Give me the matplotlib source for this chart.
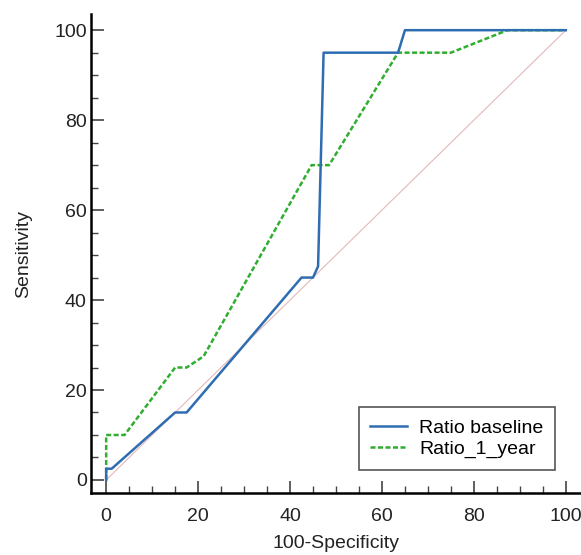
import matplotlib
matplotlib.use("Agg")
import matplotlib.pyplot as plt
from matplotlib.ticker import MultipleLocator

plt.rcParams['font.family'] = ['Liberation Sans', 'DejaVu Sans']

# ROC curves (100-Specificity, Sensitivity)
base_x = [0, 0, 1.2, 15, 17.5, 42.5, 45, 46.1, 47.3, 63.5, 65, 100]
base_y = [0, 2.5, 2.5, 15, 15, 45, 45, 47.5, 95, 95, 100, 100]

year_x = [0, 0, 4, 15, 17.5, 21.2, 44.7, 48.5, 63.5, 75, 87.3, 100]
year_y = [0, 10, 10, 25, 25, 27.5, 70, 70, 95, 95, 100, 100]

ref_x = [0, 100]
ref_y = [0, 100]

fs = 14

fig = plt.figure(figsize=(5.81, 5.55), dpi=100)
ax = fig.add_axes([91/581, 62/555, 490/581, 479/555])

ax.plot(ref_x, ref_y, color='#e2b9b9', lw=0.8, zorder=1)
ax.plot(base_x, base_y, color='#2f6db3', lw=1.8, label='Ratio baseline', zorder=3)
ax.plot(year_x, year_y, color='#2fae2f', lw=1.8, ls=(0, (2, 1)), label='Ratio_1_year', zorder=2)

ax.set_xlim(-3.3, 103.3)
ax.set_ylim(-2.9, 103.6)

ax.spines['top'].set_visible(False)
ax.spines['right'].set_visible(False)
for s in ['left', 'bottom']:
    ax.spines[s].set_linewidth(1.8)

ax.xaxis.set_major_locator(MultipleLocator(20))
ax.xaxis.set_minor_locator(MultipleLocator(5))
ax.yaxis.set_major_locator(MultipleLocator(20))
ax.yaxis.set_minor_locator(MultipleLocator(5))
ax.tick_params(which='major', direction='in', length=9, width=1.2, color='#444',
               labelsize=fs, labelcolor='#222')
ax.tick_params(which='minor', direction='in', length=5, width=1.0, color='#444')
ax.tick_params(axis='x', which='major', pad=11)
ax.tick_params(axis='y', which='major', pad=3)

ax.set_xlabel('100-Specificity', fontsize=fs, color='#222', labelpad=7)
ax.set_ylabel('Sensitivity', fontsize=fs, color='#222', labelpad=16)

leg = ax.legend(loc='lower right', bbox_to_anchor=(555/581, 85/555),
                bbox_transform=fig.transFigure, fontsize=fs, frameon=True,
                fancybox=False, edgecolor='#555', framealpha=1, borderaxespad=0,
                handlelength=1.9, handletextpad=0.6, borderpad=0.6, labelspacing=0.2)
leg.get_frame().set_linewidth(1.2)

fig.savefig('out.png', dpi=100)
